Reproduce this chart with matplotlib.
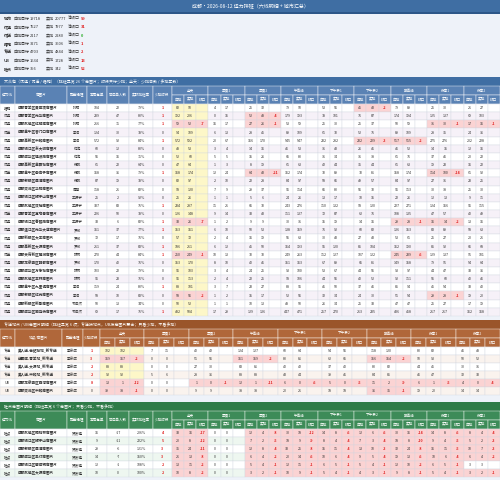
import matplotlib
matplotlib.use("Agg")
import matplotlib.pyplot as plt
from matplotlib.patches import Rectangle

plt.rcParams['font.family'] = ['Noto Sans CJK SC', 'DejaVu Sans']

title = "成都·2026-08-12 运力排班（六线明细 + 城市汇总）"
sum_lines = ["城市", "优选", "优送", "播跑", "专送", "UB", "驻点"]
sum_plan = [19718, 7527, 2117, 3271, 4703, 1634, 356]
sum_act = [20777, 7977, 2280, 3606, 4844, 1728, 342]
sum_gap = ["99", "31", "0", "1", "2", "13", "52"]

blocks = ["全天", "早餐1", "早餐2", "午高峰", "下午茶1", "下午茶2", "晚高峰", "夜宵1", "夜宵2"]

# ---------- section 1 ----------
lines1 = ["播跑", "优选", "优选", "优送", "优选", "优选", "优选", "优选", "优送", "优选", "优选", "优选", "优选",
          "优送", "优选", "优选", "优选", "优选", "优送", "优选", "优选", "优选", "优选", "优选", "优选", "优选"]
names1 = ["成都青羊区黄田坝商圈片", "成都青羊区光华商圈片", "成都武侯区红牌楼商圈片", "成都金牛区营门口商圈片",
          "成都高新区中和商圈片", "成都锦江区东大街商圈片", "成都成华区建设路商圈片", "成都高新区金融城商圈片",
          "成都金牛区茶店子商圈片", "成都郫都区犀浦商圈片", "成都双流区华阳商圈片", "成都锦江区狮子山商圈片",
          "成都武侯区双楠商圈片", "成都青羊区宽窄巷商圈片", "成都锦江区春熙路商圈片", "成都温江区光华大道商圈片",
          "成都新都区大丰商圈片", "成都高新区大源商圈片", "成都天府新区麓湖商圈片", "成都龙泉驿区驿都商圈片",
          "成都成华区万象城商圈片", "成都武侯区玉林商圈片", "成都金牛区九里堤商圈片", "成都郫都区红光商圈片",
          "成都新都区新繁商圈片", "成都成华区驷马桥商圈片"]
mgr1 = ["孙柯", "孙柯", "孙柯", "李浩", "李浩", "何涛", "何涛", "杨帆", "杨帆", "杨帆", "周强", "王振宇", "王振宇",
        "王振宇", "王振宇", "罗斌", "罗斌", "罗斌", "陈伟", "罗斌", "陈伟", "陈伟", "李浩", "李浩", "韦浩然", "韦浩然"]
weekly1 = [104, 239, 216, 124, 572, 60, 56, 61, 168, 87, 118, 25, 337, 226, 33, 161, 72, 211, 270, 170, 103, 96, 119, 58, 50, 69]
avail1 = [22, 47, 71, 30, 92, 12, 16, 22, 36, 19, 21, 2, 83, 50, 6, 37, 17, 37, 44, 40, 22, 23, 24, 10, 13, 17]
rate1 = ["79%", "80%", "77%", "78%", "84%", "80%", "71%", "64%", "79%", "78%", "82%", "92%", "75%", "78%", "82%", "77%",
         "76%", "83%", "84%", "76%", "79%", "76%", "80%", "83%", "74%", "75%"]
short1 = [1, 1, 1, 0, 1, 0, 0, 0, 1, 0, 0, 0, 1, 0, 1, 1, 0, 1, 1, 0, 0, 0, 1, 0, 0, 1]
plan1 = [
    [82, 4, 25, 79, 53, 45, 79, 25, 21], [192, 0, 52, 179, 78, 76, 174, 125, 69],
    [59, 16, 27, 53, 25, 25, 50, 31, 17], [94, 6, 28, 89, 61, 52, 89, 28, 24],
    [572, 20, 166, 545, 232, 232, 517, 275, 202], [48, 3, 14, 46, 31, 26, 46, 14, 12],
    [52, 5, 15, 65, 31, 31, 61, 37, 20], [47, 1, 8, 61, 42, 35, 61, 19, 16],
    [168, 12, 64, 162, 70, 70, 158, 114, 61], [82, 2, 22, 84, 58, 49, 84, 27, 23],
    [98, 7, 29, 96, 66, 56, 96, 30, 25], [25, 1, 5, 24, 13, 10, 22, 12, 9],
    [234, 11, 66, 243, 110, 98, 227, 124, 96], [126, 9, 33, 111, 72, 62, 108, 47, 40],
    [33, 1, 9, 30, 15, 14, 29, 16, 13], [153, 6, 50, 138, 76, 60, 136, 83, 58],
    [57, 2, 16, 55, 30, 27, 53, 25, 20], [186, 6, 45, 164, 95, 85, 162, 85, 66],
    [250, 10, 70, 249, 112, 107, 245, 129, 91], [153, 8, 40, 151, 67, 65, 149, 79, 54],
    [96, 3, 24, 93, 53, 44, 93, 44, 33], [96, 2, 22, 98, 44, 40, 92, 55, 40],
    [88, 3, 23, 88, 41, 37, 85, 45, 33], [58, 1, 15, 52, 32, 24, 51, 29, 19],
    [50, 1, 10, 48, 26, 25, 47, 25, 17], [482, 17, 129, 447, 257, 213, 436, 217, 162]]
act1 = [
    [90, 17, 32, 90, 56, 43, 89, 30, 27], [206, 15, 48, 193, 101, 87, 194, 137, 103],
    [52, 17, 26, 59, 30, 37, 59, 30, 16], [109, 13, 45, 109, 70, 75, 109, 35, 36],
    [592, 67, 170, 547, 282, 229, 515, 276, 228], [53, 4, 16, 53, 43, 41, 52, 15, 16],
    [60, 5, 26, 80, 34, 38, 76, 46, 22], [64, 3, 19, 63, 44, 44, 63, 23, 22],
    [174, 24, 43, 174, 89, 81, 174, 100, 92], [97, 10, 28, 97, 66, 57, 97, 31, 25],
    [120, 9, 37, 114, 80, 70, 113, 38, 30], [26, 1, 6, 26, 17, 15, 26, 13, 11],
    [287, 21, 70, 276, 132, 120, 271, 166, 115], [148, 14, 43, 137, 87, 76, 135, 57, 49],
    [26, 2, 9, 31, 19, 16, 28, 14, 16], [161, 10, 53, 159, 92, 82, 153, 89, 63],
    [72, 4, 19, 63, 43, 43, 61, 27, 21], [211, 12, 50, 193, 120, 104, 190, 92, 68],
    [249, 13, 70, 263, 127, 122, 239, 137, 101], [170, 10, 41, 163, 89, 81, 158, 91, 64],
    [103, 4, 25, 100, 67, 55, 97, 47, 36], [113, 4, 25, 106, 56, 52, 111, 60, 46],
    [101, 7, 27, 96, 50, 46, 94, 54, 40], [56, 2, 17, 56, 34, 30, 54, 28, 20],
    [52, 1, 13, 50, 34, 33, 47, 27, 19], [504, 29, 136, 471, 270, 235, 458, 217, 168]]

# ---------- section 2 ----------
lines2 = ["专送", "专送", "专送", "专送", "UB", "UB"]
names2 = ["美人送-世纪城站_新专送", "送蛋糕-青羊站_新专送", "美人送-大源站_新专送", "美人送-中和站_新专送",
          "成都龙泉驿区西河商圈片", "成都双流区中和商圈片"]
mgr2 = ["李京成", "李京成", "李京成", "李京成", "李京成", "李京成"]
short2 = [1, 3, 2, 2, 8, 0]
plan2 = [[102, 7, 40, 124, 60, 54, 118, 80, 46], [169, 0, 51, 161, 80, 62, 156, 90, 50],
         [88, 0, 27, 83, 40, 37, 80, 44, 30], [92, 5, 28, 88, 43, 39, 84, 46, 32],
         [13, 0, 1, 12, 6, 5, 11, 6, 4], [39, 0, 9, 38, 20, 18, 36, 19, 14]]
act2 = [[102, 11, 42, 127, 64, 56, 120, 82, 48], [167, 0, 56, 159, 86, 65, 154, 93, 52],
        [88, 0, 30, 86, 42, 40, 82, 45, 31], [92, 6, 36, 88, 44, 41, 85, 47, 33],
        [1, 0, 0, 1, 0, 0, 2, 1, 0], [38, 0, 9, 38, 21, 18, 35, 20, 14]]

# ---------- section 3 ----------
lines3 = ["驻点", "驻点", "驻点", "驻点", "驻点", "驻点"]
names3 = ["成都武侯区桐梓林商圈片", "成都锦江区狮子山商圈片", "成都郫都区犀浦商圈片",
          "成都成华区圣灯商圈片", "成都锦江区攀成钢商圈片", "成都武侯区大源商圈片"]
mgr3 = ["贺波程", "贺波程", "贺波程", "贺波程", "贺波程", "贺波程"]
weekly3 = [16, 9, 29, 14, 12, 10]
avail3 = [-17, -11, -6, -7, -1, 0]
rate3 = ["206%", "222%", "121%", "150%", "108%", "100%"]
short3 = [4, 5, 3, 3, 2, 2]
plan3 = [[33, 0, 12, 30, 14, 12, 30, 14, 8], [20, 0, 7, 18, 8, 7, 18, 9, 5],
         [35, 0, 12, 33, 15, 13, 32, 16, 10], [21, 0, 6, 20, 10, 9, 19, 10, 6],
         [13, 0, 5, 12, 6, 5, 12, 6, 3], [10, 0, 3, 10, 5, 4, 9, 5, 3]]
act3 = [[16, 0, 4, 18, 8, 6, 16, 8, 4], [8, 0, 2, 9, 4, 3, 8, 4, 2],
        [24, 0, 8, 25, 11, 10, 24, 11, 7], [13, 0, 4, 14, 6, 5, 13, 6, 4],
        [11, 0, 4, 11, 5, 4, 10, 5, 3], [8, 0, 2, 9, 4, 3, 8, 4, 2]]

# ================= drawing =================
fig = plt.figure(figsize=(5, 4.8), dpi=100)
fig.patch.set_facecolor("#eef2f9")
ax = fig.add_axes([0, 0, 1, 1])
ax.set_xlim(0, 500); ax.set_ylim(480, 0); ax.axis("off")
FS = 2.6
RED = "#e02020"; GREEN = "#22aa22"

def rect(x, y, w, h, fc, ec="#d0d6e0", lw=0.25):
    ax.add_patch(Rectangle((x, y), w, h, facecolor=fc, edgecolor=ec, linewidth=lw))

def txt(x, y, s, c="#333333", ha="center", bold=False, fs=FS):
    ax.text(x, y, s, fontsize=fs, color=c, ha=ha, va="center", fontweight="bold" if bold else "normal")

rect(0, 0, 500, 12, "#3f6ea3", ec="none")
txt(250, 6.5, title, c="white", fs=3.6)
rect(0, 12, 500, 2, "#2c5688", ec="none")

for i, ln in enumerate(sum_lines):
    y = 19 + i * 8.3
    txt(4, y, ln, ha="left", fs=2.9, bold=True)
    txt(14, y, "应排目标", ha="left", fs=2.9)
    txt(30, y, str(sum_plan[i]), ha="left", fs=2.9)
    txt(46, y, "实排", ha="left", fs=2.9)
    txt(55, y, str(sum_act[i]), ha="left", fs=2.9)
    txt(68, y, "净缺口", ha="left", fs=2.9)
    txt(81, y, sum_gap[i], c=GREEN if sum_gap[i] == "0" else RED, ha="left", bold=True, fs=2.9)

def section(y0, color, hcolor, title_s, fixed_cols, fixed_w, rows_fixed, plans, acts, x_end=500, row_h=8.15, alt="#f6f1f8"):
    rect(0, y0, 500, 9, color, ec="none")
    txt(4, y0 + 4.7, title_s, c="white", ha="left", fs=2.9)
    hy = y0 + 9; hh = 18
    x = 0; xs = []
    for name, w in zip(fixed_cols, fixed_w):
        rect(x, hy, w, hh, hcolor, ec="#ffffff", lw=0.3)
        txt(x + w / 2, hy + hh / 2, name, c="white")
        xs.append((x, w)); x += w
    bw = (x_end - x) / len(blocks)
    bx0 = x
    for b, bn in enumerate(blocks):
        bx = bx0 + b * bw
        rect(bx, hy, bw, hh / 2, hcolor, ec="#ffffff", lw=0.3)
        txt(bx + bw / 2, hy + hh / 4, bn, c="white")
        for k, sub in enumerate(["应排", "实排", "缺口"]):
            rect(bx + k * bw / 3, hy + hh / 2, bw / 3, hh / 2, hcolor, ec="#ffffff", lw=0.3)
            txt(bx + k * bw / 3 + bw / 6, hy + hh * 0.75, sub, c="white")
    ry = hy + hh
    for r in range(len(plans)):
        y = ry + r * row_h
        bg = "#ffffff" if r % 2 == 0 else alt
        for ci, (cx, cw) in enumerate(xs):
            val = rows_fixed[ci][r]
            rect(cx, y, cw, row_h, bg)
            col = "#333333"; bold = False
            if fixed_cols[ci] == "少排时段":
                col = RED if val else "#333333"; bold = bool(val)
            if fixed_cols[ci] in ("商圈片", "站点/商圈片"):
                txt(cx + 3, y + row_h / 2, str(val), ha="left", bold=True)
            else:
                txt(cx + cw / 2, y + row_h / 2, str(val), c=col, bold=bold)
        for b in range(len(blocks)):
            p = plans[r][b]; a = acts[r][b]
            g = a - p
            bx = bx0 + b * bw
            if b == 0:
                fc = "#fbd3d3" if g < 0 else "#fdf7c8"
            else:
                fc = "#fbd3d3" if g < 0 else bg
            for k in range(3):
                rect(bx + k * bw / 3, y, bw / 3, row_h, fc)
            txt(bx + bw / 6, y + row_h / 2, str(p))
            txt(bx + bw / 2, y + row_h / 2, str(a))
            if g < 0:
                txt(bx + bw * 5 / 6, y + row_h / 2, str(g), c=RED, bold=True)
    return ry + len(plans) * row_h

section(77, "#3f6ea3", "#5a82b4",
        "大众包（优选 / 优送 / 播跑）（排班异常 26 个商圈片；时段只标少排；全天：少排告数 / 多排正数）",
        ["运力线", "商圈片", "配送经理", "本周每单", "可供单人数", "实际排班率", "少排时段"],
        [15, 52, 20, 20, 22, 24, 19],
        [lines1, names1, mgr1, weekly1, avail1, rate1, short1], plan1, act1)

section(320, "#9a552a", "#b0673a",
        "专送站点 / UB商圈片明细（排班异常 6 项；专送按站点，UB按商圈片聚合；只看少排，不看多排）",
        ["运力线", "站点/商圈片", "配送经理", "少排时段"],
        [15, 47, 21, 17],
        [lines2, names2, mgr2, short2], plan2, act2, row_h=8.0, alt="#faf3ee")

section(402, "#2f7b48", "#3d8b58",
        "驻点商圈片明细（排班异常 6 个商圈片；只看少排，不看多排）",
        ["运力线", "商圈片", "配送经理", "本周每单", "可供单人数", "实际排班率", "少排时段"],
        [15, 52, 20, 20, 22, 24, 19],
        [lines3, names3, mgr3, weekly3, avail3, rate3, short3], plan3, act3, row_h=8.0, alt="#eef7f0")

fig.savefig("out.png", dpi=100, facecolor=fig.get_facecolor())
